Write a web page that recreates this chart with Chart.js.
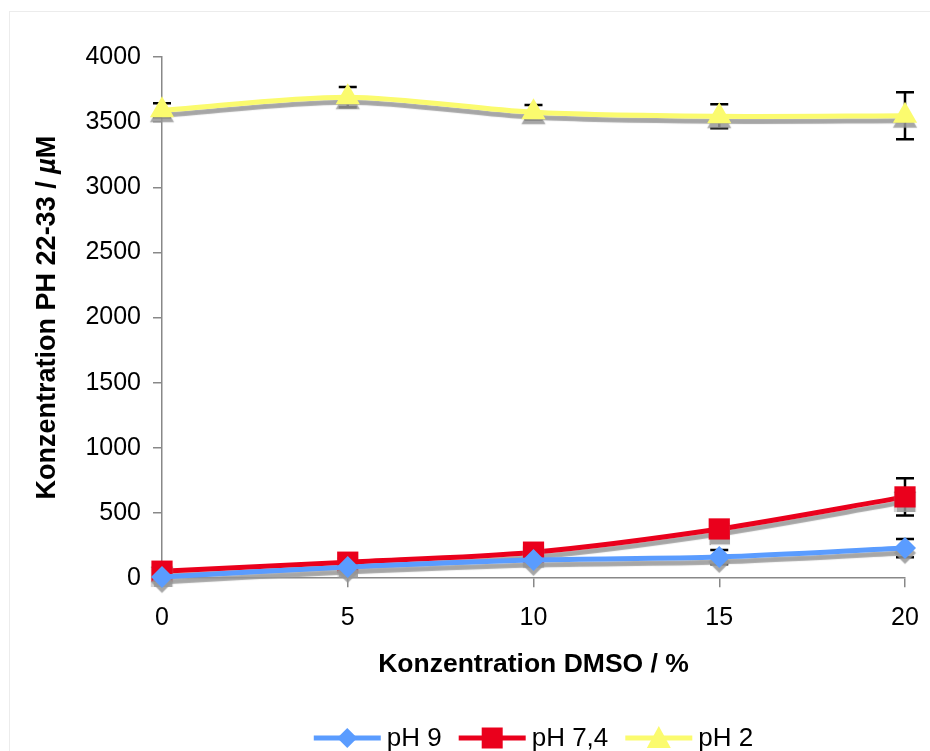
<!DOCTYPE html>
<html>
<head>
<meta charset="utf-8">
<script src="https://cdn.jsdelivr.net/npm/chart.js@4"></script>
<style>
  html, body { margin: 0; padding: 0; background: #fff; }
  #wrap { width: 930px; height: 751px; }
</style>
</head>
<body>
<div id="wrap"><canvas id="dmsoChart" width="930" height="751"></canvas></div>
<script>
// DMSO concentration (%)
const dmso = [0, 5, 10, 15, 20];

// measured concentrations (µM) and error bars
const ph9 = [10, 85, 139, 162, 231];
const ph9Err = [10, 15, 20, 55, 70];
const ph74 = [54, 123, 200, 378, 624];
const ph74Err = [0, 0, 0, 0, 143];
const ph2 = [3591, 3692, 3576, 3545, 3549];
const ph2Err = [54, 77, 55, 92, 181];

const yTicks = [0, 500, 1000, 1500, 2000, 2500, 3000, 3500, 4000];

const FONT = '"Liberation Sans", Arial, Helvetica, sans-serif';

function pts(ys) {
    return dmso.map((x, i) => ({ x: x, y: ys[i] }));
}

const errors = [ph9Err, ph74Err, ph2Err];

// error bars drawn behind the lines
const errorBars = {
    id: 'errorBars',
    beforeDatasetsDraw(chart) {
        const ctx = chart.ctx;
        const xs = chart.scales.x, ys = chart.scales.y;
        ctx.save();
        ctx.strokeStyle = '#000';
        ctx.lineWidth = 2.5;
        chart.data.datasets.forEach((ds, di) => {
            ds.data.forEach((p, i) => {
                const e = errors[di][i];
                if (!e) return;
                const px = xs.getPixelForValue(p.x);
                const top = ys.getPixelForValue(p.y + e);
                const bot = ys.getPixelForValue(p.y - e);
                ctx.beginPath();
                ctx.moveTo(px, top); ctx.lineTo(px, bot);
                ctx.moveTo(px - 9, top); ctx.lineTo(px + 9, top);
                ctx.moveTo(px - 9, bot); ctx.lineTo(px + 9, bot);
                ctx.stroke();
            });
        });
        ctx.restore();
        // grey drop shadow under lines and markers
        ctx.shadowColor = 'rgba(150,150,150,0.85)';
        ctx.shadowOffsetX = 0;
        ctx.shadowOffsetY = 5;
        ctx.shadowBlur = 1;
    },
    afterDatasetsDraw(chart) {
        const ctx = chart.ctx;
        ctx.shadowColor = 'rgba(0,0,0,0)';
        ctx.shadowOffsetY = 0;
        ctx.shadowBlur = 0;
    }
};

// outer frame, y title with italic µ, bottom legend with line + marker
const frameLegend = {
    id: 'frameLegend',
    beforeDraw(chart) {
        const ctx = chart.ctx;
        ctx.save();
        ctx.fillStyle = '#fff';
        ctx.fillRect(0, 0, chart.width, chart.height);
        ctx.strokeStyle = '#ececec';
        ctx.lineWidth = 1;
        ctx.strokeRect(9.5, 11.5, chart.width + 20, chart.height + 20);
        ctx.restore();
    },
    afterDraw(chart) {
        const ctx = chart.ctx;
        const area = chart.chartArea;

        // y axis title
        ctx.save();
        const parts = [
            ['Konzentration PH 22-33 / ', 'bold 27px ' + FONT],
            ['µ', 'italic bold 27px ' + FONT],
            ['M', 'bold 27px ' + FONT]
        ];
        let len = 0;
        parts.forEach(p => { ctx.font = p[1]; len += ctx.measureText(p[0]).width; });
        ctx.translate(48, (area.top + area.bottom) / 2);
        ctx.rotate(-Math.PI / 2);
        ctx.fillStyle = '#000';
        ctx.textBaseline = 'middle';
        let tx = -len / 2;
        parts.forEach(p => {
            ctx.font = p[1];
            ctx.fillText(p[0], tx, 0);
            tx += ctx.measureText(p[0]).width;
        });
        ctx.restore();

        // legend
        ctx.save();
        ctx.font = '26px ' + FONT;
        ctx.textBaseline = 'middle';
        const lineLen = 67, gapText = 6, gapItem = 17;
        const items = chart.data.datasets;
        let total = 0;
        items.forEach(ds => { total += lineLen + gapText + ctx.measureText(ds.label).width + gapItem; });
        total -= gapItem;
        let x = (area.left + area.right - total) / 2;
        const y = 738;
        items.forEach(ds => {
            ctx.strokeStyle = ds.borderColor;
            ctx.lineWidth = 5;
            ctx.beginPath();
            ctx.moveTo(x, y); ctx.lineTo(x + lineLen, y);
            ctx.stroke();
            ctx.fillStyle = ds.pointBackgroundColor;
            const cx = x + lineLen / 2;
            ctx.beginPath();
            if (ds.pointStyle === 'rectRot') {
                ctx.moveTo(cx, y - 10); ctx.lineTo(cx + 10, y); ctx.lineTo(cx, y + 10); ctx.lineTo(cx - 10, y);
            } else if (ds.pointStyle === 'rect') {
                ctx.rect(cx - 10.5, y - 10.5, 21, 21);
            } else {
                ctx.moveTo(cx, y - 12); ctx.lineTo(cx + 12, y + 10); ctx.lineTo(cx - 12, y + 10);
            }
            ctx.closePath();
            ctx.fill();
            ctx.fillStyle = '#000';
            ctx.fillText(ds.label, x + lineLen + gapText, y + 1);
            x += lineLen + gapText + ctx.measureText(ds.label).width + gapItem;
        });
        ctx.restore();
    }
};

const ctx = document.getElementById('dmsoChart').getContext('2d');
const dmsoChart = new Chart(ctx, {
    type: 'line',
    data: {
        datasets: [
            {
                label: 'pH 9',
                data: pts(ph9),
                borderColor: '#5a9cff',
                backgroundColor: '#5a9cff',
                pointBackgroundColor: '#5a9cff',
                pointBorderWidth: 0,
                pointStyle: 'rectRot',
                pointRadius: 11,
                borderWidth: 5,
                tension: 0.3,
                clip: false
            },
            {
                label: 'pH 7,4',
                data: pts(ph74),
                borderColor: '#ea001c',
                backgroundColor: '#ea001c',
                pointBackgroundColor: '#ea001c',
                pointBorderWidth: 0,
                pointStyle: 'rect',
                pointRadius: 15,
                borderWidth: 5,
                tension: 0.3,
                clip: false
            },
            {
                label: 'pH 2',
                data: pts(ph2),
                borderColor: '#fbfb6e',
                backgroundColor: '#fbfb6e',
                pointBackgroundColor: '#fbfb6e',
                pointBorderWidth: 0,
                pointStyle: 'triangle',
                pointRadius: 14,
                borderWidth: 5,
                tension: 0.3,
                clip: false
            }
        ]
    },
    options: {
        responsive: false,
        animation: false,
        layout: { padding: { left: 0, right: 25, top: 57, bottom: 70 } },
        plugins: {
            legend: { display: false },
            tooltip: { enabled: false }
        },
        scales: {
            x: {
                type: 'linear',
                min: 0,
                max: 20,
                afterBuildTicks(scale) { scale.ticks = dmso.map(v => ({ value: v })); },
                afterFit(scale) { scale.paddingRight = 0; scale.paddingLeft = 0; },
                grid: { drawOnChartArea: false, drawTicks: true, tickLength: 9, color: '#888', lineWidth: 1.5 },
                border: { display: true, color: '#888', width: 1.5 },
                ticks: { color: '#000', font: { family: FONT, size: 25 }, padding: 16, callback: v => String(v) },
                title: {
                    display: true,
                    text: 'Konzentration DMSO / %',
                    color: '#000',
                    font: { family: FONT, size: 26.5, weight: 'bold' },
                    padding: { top: 0, bottom: 0 }
                }
            },
            y: {
                min: 0,
                max: 4000,
                afterBuildTicks(scale) { scale.ticks = yTicks.map(v => ({ value: v })); },
                afterFit(scale) { scale.width = 162; },
                grid: { drawOnChartArea: false, drawTicks: true, tickLength: 9, color: '#888', lineWidth: 1.5 },
                border: { display: true, color: '#888', width: 1.5 },
                ticks: { color: '#000', font: { family: FONT, size: 25 }, padding: 12, callback: v => String(v) },
                title: { display: false }
            }
        }
    },
    plugins: [errorBars, frameLegend]
});
</script>
</body>
</html>
